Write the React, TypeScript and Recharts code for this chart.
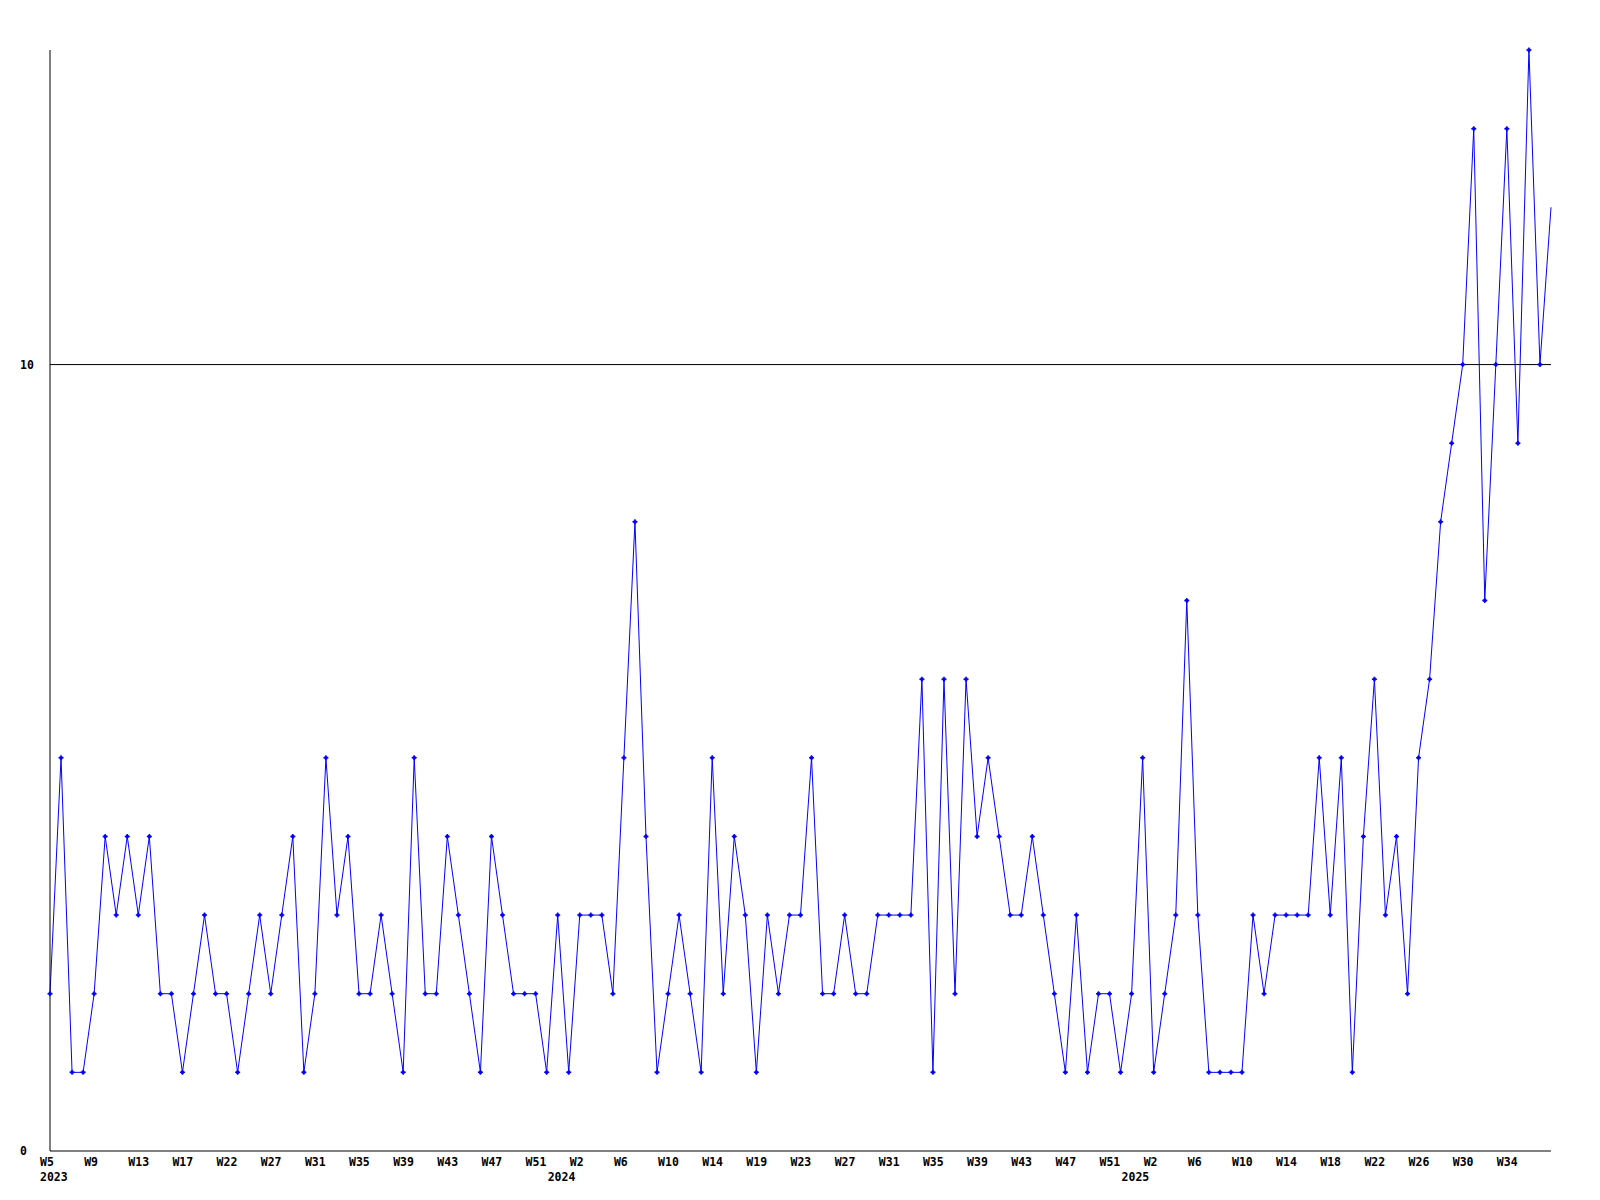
import { LineChart, Line, XAxis, YAxis, ReferenceLine } from "recharts";

// weekly counts, W5 2023 .. W37 2025
const WEEKLY_COUNTS = [
    2, 5, 1, 1, 2, 4, 3, 4, 3, 4,
    2, 2, 1, 2, 3, 2, 2, 1, 2, 3,
    2, 3, 4, 1, 2, 5, 3, 4, 2, 2,
    3, 2, 1, 5, 2, 2, 4, 3, 2, 1,
    4, 3, 2, 2, 2, 1, 3, 1, 3, 3,
    3, 2, 5, 8, 4, 1, 2, 3, 2, 1,
    5, 2, 4, 3, 1, 3, 2, 3, 3, 5,
    2, 2, 3, 2, 2, 3, 3, 3, 3, 6,
    1, 6, 2, 6, 4, 5, 4, 3, 3, 4,
    3, 2, 1, 3, 1, 2, 2, 1, 2, 5,
    1, 2, 3, 7, 3, 1, 1, 1, 1, 3,
    2, 3, 3, 3, 3, 5, 3, 5, 1, 4,
    6, 3, 4, 2, 5, 6, 8, 9, 10, 13,
    7, 10, 13, 9, 14, 10, 12,
];

// one label every 4th week
const WEEK_LABELS = [
    "W5", "W9", "W13", "W17", "W22", "W27", "W31", "W35", "W39", "W43", "W47", "W51",
    "W2", "W6", "W10", "W14", "W19", "W23", "W27", "W31", "W35", "W39", "W43", "W47", "W51",
    "W2", "W6", "W10", "W14", "W18", "W22", "W26", "W30", "W34",
];
const LABEL_STEP = 4;

const YEAR_LABELS = ["2023", "2024", "2025"];
const YEAR_AT = [0, 46, 98];

const Y_TICKS = [0, 10];
const Y_MAX = 14;

const FONT = "'DejaVu Sans Mono', monospace";
const BLUE = "#0000ff";

const data = WEEKLY_COUNTS.map((v, i) => ({ i, v }));
const last = WEEKLY_COUNTS.length - 1;
const weekTicks = WEEK_LABELS.map((_, k) => k * LABEL_STEP);

function WeekTick({ x, y, payload }: any) {
    return (
        <text x={x - 10} y={y + 15} fontFamily={FONT} fontSize={11.5} fontWeight="bold" fill="#000" textAnchor="start">
            {WEEK_LABELS[payload.value / LABEL_STEP]}
        </text>
    );
}

function YearTick({ x, y, payload }: any) {
    return (
        <text x={x - 10} y={y + 10} fontFamily={FONT} fontSize={11.5} fontWeight="bold" fill="#000" textAnchor="start">
            {YEAR_LABELS[YEAR_AT.indexOf(payload.value)]}
        </text>
    );
}

function ValueTick({ y, payload }: any) {
    return (
        <text x={20} y={y + 4} fontFamily={FONT} fontSize={11.5} fontWeight="bold" fill="#000" textAnchor="start">
            {payload.value}
        </text>
    );
}

function Marker({ cx, cy, index }: any) {
    if (index === last) return <g key={index} />;
    return (
        <g key={index}>
            <path d={`M${cx - 2.5},${cy}H${cx + 2.5}M${cx},${cy - 2.5}V${cy + 2.5}`} stroke={BLUE} strokeWidth={1.5} />
            <rect x={cx - 1.5} y={cy - 1.5} width={3} height={3} fill={BLUE} />
        </g>
    );
}

export default function App() {
    return (
        <div style={{ position: "absolute", left: 0, top: 0, background: "#fff" }}>
            <LineChart width={1600} height={1200} data={data} margin={{ top: 50, right: 49, bottom: 0, left: 0 }}>
                <XAxis
                    dataKey="i"
                    type="number"
                    domain={[0, last]}
                    ticks={weekTicks}
                    interval={0}
                    tick={<WeekTick />}
                    tickLine={false}
                    tickSize={0}
                    tickMargin={0}
                    height={20}
                    axisLine={{ stroke: "#000", strokeWidth: 1 }}
                />
                <XAxis
                    xAxisId="year"
                    dataKey="i"
                    type="number"
                    domain={[0, last]}
                    ticks={YEAR_AT}
                    interval={0}
                    tick={<YearTick />}
                    tickLine={false}
                    tickSize={0}
                    tickMargin={0}
                    height={29}
                    axisLine={false}
                />
                <YAxis
                    type="number"
                    domain={[0, Y_MAX]}
                    ticks={Y_TICKS}
                    interval={0}
                    width={50}
                    tick={<ValueTick />}
                    tickLine={false}
                    tickSize={0}
                    axisLine={{ stroke: "#000", strokeWidth: 1 }}
                />
                <ReferenceLine y={10} stroke="#000" strokeWidth={1} />
                <Line
                    type="linear"
                    dataKey="v"
                    stroke={BLUE}
                    strokeWidth={1}
                    dot={<Marker />}
                    activeDot={false}
                    isAnimationActive={false}
                />
            </LineChart>
        </div>
    );
}
